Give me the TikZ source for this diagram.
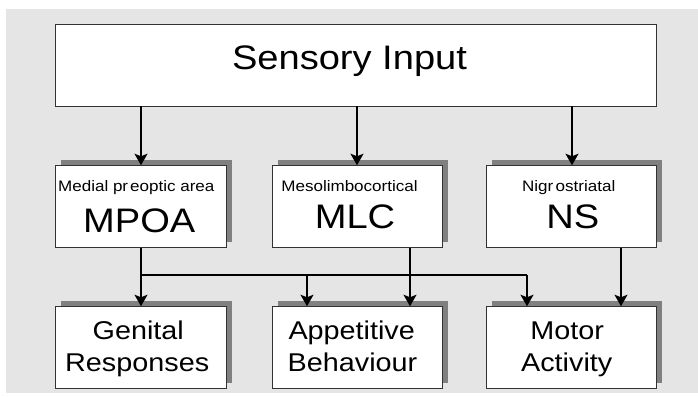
\documentclass[tikz,border=0pt]{standalone}
\usepackage{fontspec}
\setmainfont{Liberation Sans}[FakeStretch=1.12]
\usetikzlibrary{arrows.meta,shadows}
\definecolor{bggray}{RGB}{229,229,229}
\definecolor{shgray}{RGB}{128,128,128}
\definecolor{edgegray}{RGB}{50,50,50}
\tikzset{
  boxbase/.style={draw=edgegray, line width=0.9pt, fill=white, rectangle, inner sep=0pt, minimum height=82pt},
  shbox/.style={boxbase, minimum width=170.5pt,
    drop shadow={shadow xshift=5.5pt, shadow yshift=5.5pt, fill=shgray, opacity=1}},
  txt/.style={inner sep=0pt, anchor=base},
  bigtxt/.style={txt, font=\fontsize{34}{40}\selectfont},
  midtxt/.style={txt, font=\fontsize{25.7}{30}\selectfont},
  smalltxt/.style={txt, font=\fontsize{15.2}{18}\selectfont},
  arr/.style={line width=1.4pt, -{Stealth[length=11.5pt, width=13pt, inset=2.5pt]}},
  ln/.style={line width=1.4pt}
}
\begin{document}
\begin{tikzpicture}[x=1pt,y=1pt]
\useasboundingbox (0,0) rectangle (698,-396);
\fill[bggray] (6,-9) rectangle (698,-393);

% boxes
\node[boxbase, minimum width=601.4pt] (sens) at (356,-65) {};
\node[shbox] (mpoa) at (140.75,-206.7) {};
\node[shbox] (mlc)  at (357.55,-206.7) {};
\node[shbox] (ns)   at (571.25,-206.7) {};
\node[shbox] (gen)  at (140.75,-347.7) {};
\node[shbox] (app)  at (357.55,-347.7) {};
\node[shbox] (mot)  at (571.25,-347.7) {};

% texts
\node[bigtxt] (tsens) at (349.5,-69.3) {Sensory Input};
\node[smalltxt] (tmpoa1) at (136.3,-191.3) {Medial pr\kern2pt eoptic area};
\node[bigtxt] (tmpoa2) at (139.2,-232.7) {MPOA};
\node[smalltxt] (tmlc1) at (349.5,-191.3) {Mesolimbocortical};
\node[bigtxt] (tmlc2) at (355,-228.3) {MLC};
\node[smalltxt] (tns1) at (568.7,-191.3) {Nigr\kern2.5pt ostriatal};
\node[bigtxt] (tns2) at (572.8,-228.3) {NS};
\node[midtxt] (tgen1) at (138.3,-339.8) {Genital};
\node[midtxt] (tgen2) at (137.2,-371.6) {Responses};
\node[midtxt] (tapp1) at (351.7,-339.8) {Appetitive};
\node[midtxt] (tapp2) at (352.5,-371.6) {Behaviour};
\node[midtxt] (tmot1) at (567.2,-339.8) {Motor};
\node[midtxt] (tmot2) at (566.7,-371.6) {Activity};

% coordinates for connector routing
\coordinate (jgen) at (141,-275);
\coordinate (japp) at (307,-275);
\coordinate (jmot) at (527,-275);

% top arrows
\draw[arr] (sens.south -| 141,0) -- (mpoa.north -| 141,0);
\draw[arr] (sens.south -| 357,0) -- (mlc.north -| 357,0);
\draw[arr] (sens.south -| 572,0) -- (ns.north -| 572,0);

% bottom connectors
\draw[arr] (mpoa.south -| jgen) -- (gen.north -| jgen);
\draw[ln] (jgen) -- (jmot);
\draw[arr] (japp) -- (app.north -| japp);
\draw[arr] (jmot) -- (mot.north -| jmot);
\draw[arr] (mlc.south -| 410,0) -- (app.north -| 410,0);
\draw[arr] (ns.south -| 621,0) -- (mot.north -| 621,0);
\end{tikzpicture}
\end{document}
